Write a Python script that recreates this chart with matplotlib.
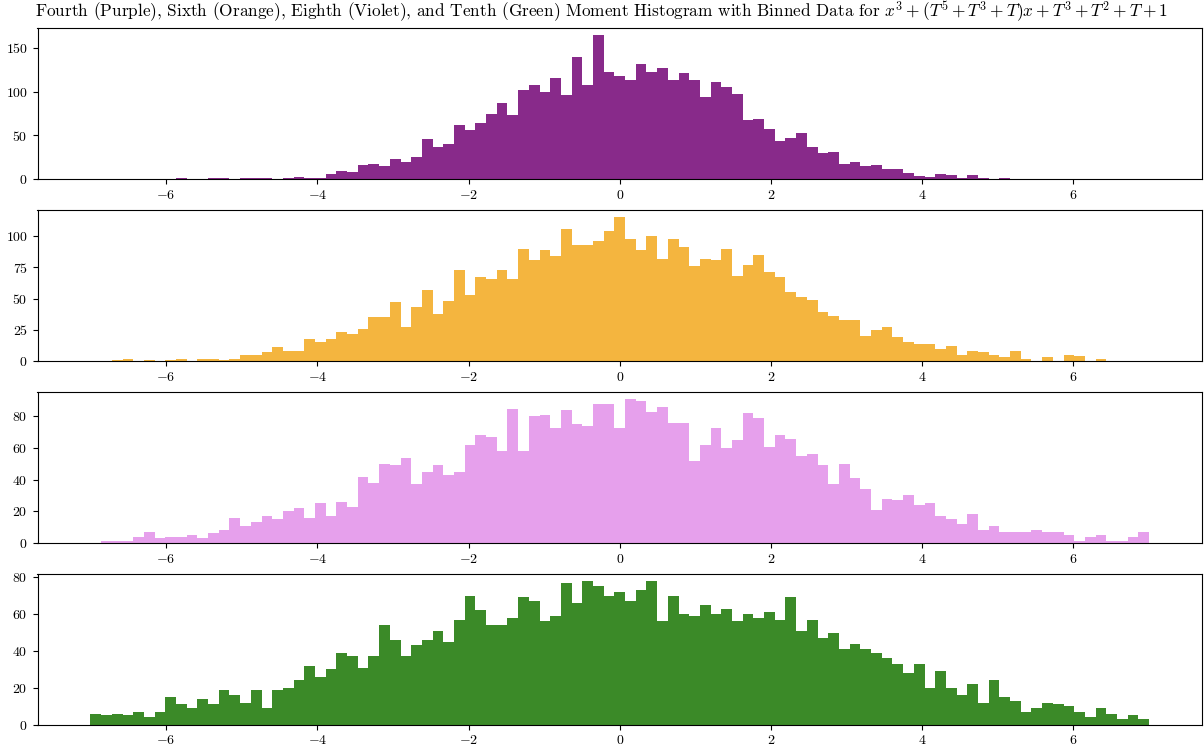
import numpy as np
import matplotlib
matplotlib.use("Agg")
import matplotlib.pyplot as plt

plt.rcParams['font.family'] = 'serif'
plt.rcParams['font.serif'] = ['cmr10', 'DejaVu Serif']
plt.rcParams['mathtext.fontset'] = 'cm'
plt.rcParams['axes.formatter.use_mathtext'] = True
plt.rcParams['axes.unicode_minus'] = True

bin_edges = np.linspace(-7, 7, 100)

fourth_counts = [0, 0, 0, 0, 0, 0, 0, 0, 2, 0,
                 0, 1, 1, 0, 1, 1, 1, 0, 1, 3,
                 2, 1, 6, 10, 8, 16, 17, 15, 23, 20,
                 25, 46, 37, 40, 62, 56, 64, 74, 87, 73,
                 102, 107, 100, 116, 96, 140, 107, 164, 122, 118,
                 113, 131, 122, 127, 113, 121, 113, 94, 111, 105,
                 97, 68, 69, 57, 44, 47, 53, 37, 30, 31,
                 18, 20, 15, 16, 12, 12, 7, 4, 3, 6,
                 5, 2, 5, 2, 0, 1, 0, 0, 0, 0,
                 0, 0, 0, 0, 0, 0, 0, 0, 0]
sixth_counts = [0, 0, 1, 2, 0, 1, 0, 1, 2, 0,
                2, 2, 1, 2, 5, 5, 7, 11, 8, 8,
                18, 15, 18, 23, 22, 26, 35, 35, 47, 27,
                43, 57, 38, 48, 73, 53, 67, 66, 73, 66,
                90, 81, 89, 84, 106, 93, 93, 96, 104, 115,
                98, 89, 100, 82, 98, 91, 76, 82, 81, 90,
                68, 77, 85, 71, 67, 55, 51, 49, 39, 36,
                33, 33, 20, 25, 27, 19, 15, 14, 14, 10,
                12, 5, 8, 7, 5, 3, 8, 2, 0, 3,
                0, 5, 4, 0, 2, 0, 0, 0, 0]
eighth_counts = [0, 1, 1, 1, 4, 7, 3, 4, 4, 5,
                 3, 6, 8, 16, 11, 13, 17, 15, 20, 22,
                 16, 25, 17, 26, 23, 42, 38, 50, 49, 54,
                 37, 45, 49, 43, 45, 62, 68, 67, 58, 85,
                 58, 80, 81, 73, 84, 75, 74, 88, 88, 73,
                 91, 90, 83, 86, 76, 76, 52, 62, 73, 60,
                 65, 82, 79, 61, 68, 66, 55, 56, 49, 37,
                 50, 41, 34, 21, 28, 27, 30, 24, 25, 17,
                 15, 12, 18, 8, 11, 7, 7, 7, 8, 7,
                 7, 5, 1, 4, 5, 1, 1, 4, 7]
tenth_counts = [6, 5, 6, 5, 7, 4, 7, 15, 11, 9,
                14, 11, 19, 16, 12, 19, 9, 19, 20, 24,
                32, 26, 30, 39, 37, 31, 37, 54, 46, 37,
                43, 46, 51, 45, 57, 70, 62, 54, 54, 58,
                69, 67, 56, 59, 77, 66, 78, 75, 70, 72,
                67, 73, 78, 56, 70, 60, 59, 65, 60, 63,
                56, 60, 58, 61, 57, 69, 51, 57, 47, 50,
                41, 44, 41, 39, 36, 33, 28, 33, 20, 29,
                20, 16, 22, 12, 24, 15, 13, 7, 9, 12,
                11, 10, 7, 4, 9, 6, 3, 5, 3]

series = [fourth_counts, sixth_counts, eighth_counts, tenth_counts]
colors = ['#882a8a', '#f4b53f', '#e6a0ec', '#3b8a28']
xticks = [-6, -4, -2, 0, 2, 4, 6]
yticks = [[0, 50, 100, 150], [0, 25, 50, 75, 100], [0, 20, 40, 60, 80], [0, 20, 40, 60, 80]]

title = (r"Fourth (Purple), Sixth (Orange), Eighth (Violet), and Tenth (Green) Moment "
         r"Histogram with Binned Data for $x^3 + (T^5 + T^3 + T)x + T^3 + T^2 + T + 1$")

fig, axes = plt.subplots(4, 1, figsize=(12.04, 7.52), dpi=100)
fig.subplots_adjust(left=37.5/1204, right=1202/1204, top=1-28.3/752, bottom=1-724.7/752, hspace=0.204)

centers = (bin_edges[:-1] + bin_edges[1:]) / 2
for ax, counts, c, yt in zip(axes, series, colors, yticks):
    ax.hist(centers, bins=bin_edges, weights=counts, color=c, linewidth=0)
    ax.set_xticks(xticks)
    ax.set_yticks(yt)
    ax.tick_params(labelsize=10)

fig.text(0.5, 1 - 12/752, title, ha='center', va='center', fontsize=12.4)

fig.savefig("out.png", dpi=100)
